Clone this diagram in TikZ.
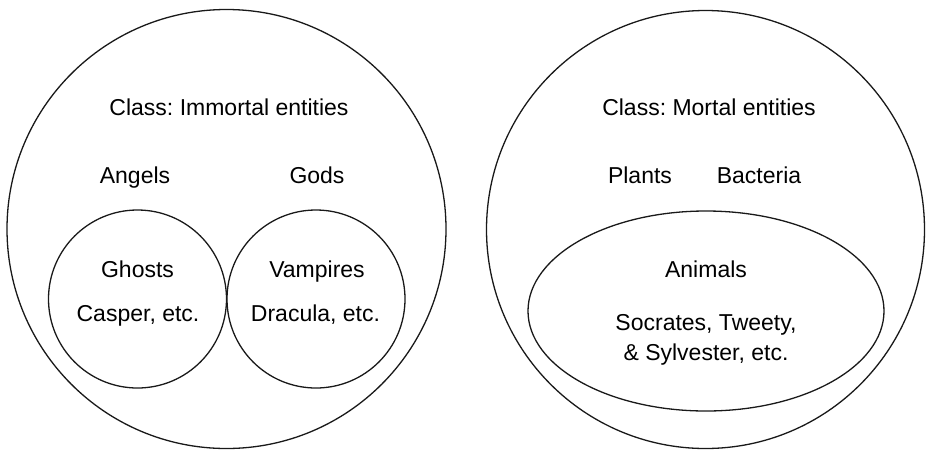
\documentclass[tikz,border=0pt]{standalone}
\usepackage{fontspec}
\setmainfont{Liberation Sans}
\frenchspacing
\usetikzlibrary{shapes.geometric}
\begin{document}
\begin{tikzpicture}[x=1pt,y=-1pt,
  ring/.style={draw=black!90, line width=1.3pt, circle, inner sep=0pt},
  oval/.style={draw=black!90, line width=1.3pt, ellipse, inner sep=0pt},
  lbl/.style={anchor=base, inner sep=0pt, text=black, font=\fontsize{23}{28}\selectfont}]
\useasboundingbox (0,0) rectangle (926,451);
% outer classes
\node[ring, minimum size=439pt] (immortal) at (226.5,229) {};
\node[ring, minimum size=438pt] (mortal) at (705.5,229.5) {};
% inner sets
\node[ring, minimum size=178pt] (ghosts) at (137.5,299) {};
\node[ring, minimum size=178pt] (vampires) at (316,299) {};
\node[oval, minimum width=356pt, minimum height=200pt] (animals) at (706,311) {};
% labels, left
\node[lbl] (tImm) at (229,115) {Class: Immortal entities};
\node[lbl] (tAngels) at (135,183) {Angels};
\node[lbl] (tGods) at (317,183) {Gods};
\node[lbl] (tGhosts) at (137.5,277) {Ghosts};
\node[lbl] (tCasper) at (138,321) {Casper, etc.};
\node[lbl] (tVamp) at (317,277) {Vampires};
\node[lbl] (tDrac) at (315.5,321) {Dracula, etc.};
% labels, right
\node[lbl] (tMort) at (709,115) {Class: Mortal entities};
\node[lbl] (tPlants) at (640,183) {Plants};
\node[lbl] (tBact) at (759,183) {Bacteria};
\node[lbl] (tAnim) at (706,277) {Animals};
\node[lbl] (tSoc) at (706,330) {Socrates, Tweety,};
\node[lbl] (tSyl) at (706,360) {\& Sylvester, etc.};
\end{tikzpicture}
\end{document}
